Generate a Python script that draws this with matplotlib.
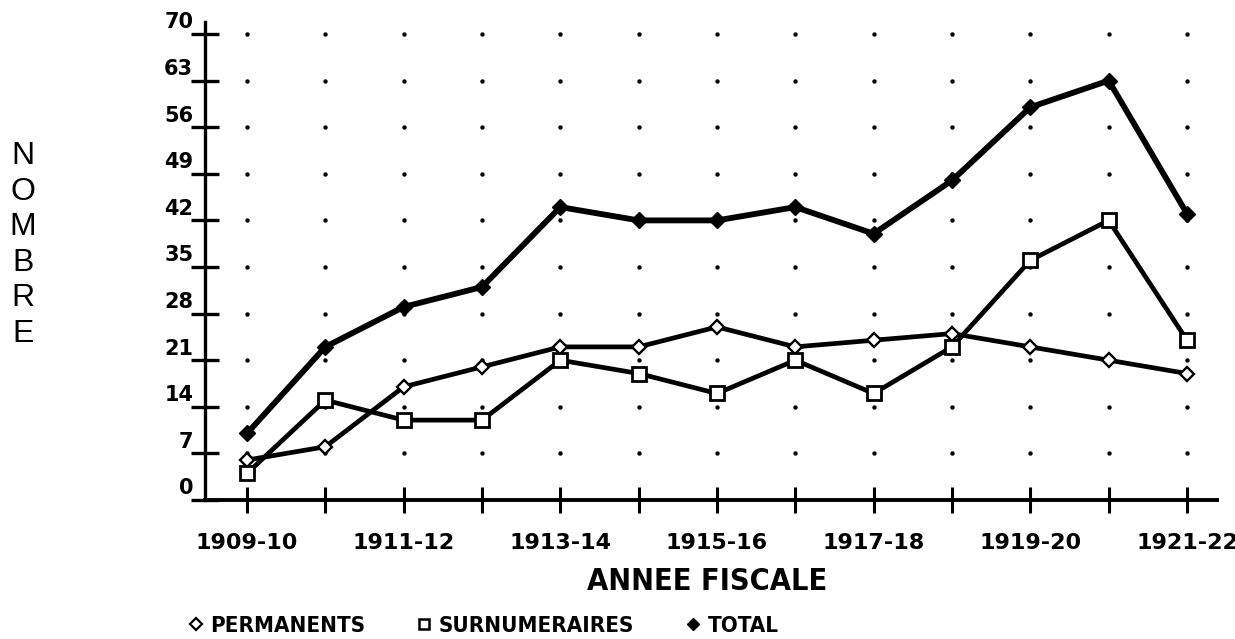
import numpy as np
import matplotlib
matplotlib.use("Agg")
import matplotlib.pyplot as plt
from matplotlib.lines import Line2D
from matplotlib.transforms import ScaledTranslation
from matplotlib import font_manager as fm

# ---- data ----
years = ["1909-10", "1910-11", "1911-12", "1912-13", "1913-14", "1914-15", "1915-16",
         "1916-17", "1917-18", "1918-19", "1919-20", "1920-21", "1921-22"]
permanents = [6, 8, 17, 20, 23, 23, 26, 23, 24, 25, 23, 21, 19]
surnumeraires = [4, 15, 12, 12, 21, 19, 16, 21, 16, 23, 36, 42, 24]
total = [10, 23, 29, 32, 44, 42, 42, 44, 40, 48, 59, 63, 43]
yticks = [0, 7, 14, 21, 28, 35, 42, 49, 56, 63, 70]
xlabels_shown = years[::2]
legend_labels = ["PERMANENTS", "SURNUMERAIRES", "TOTAL"]

# condensed bold face if available, else regular Liberation Sans
_cond = [f.fname for f in fm.fontManager.ttflist
         if "DejaVuSansCondensed-Bold.ttf" in f.fname]
if _cond:
    def cfont(size):
        return fm.FontProperties(fname=_cond[0], size=size)
    title_fp = cfont(22)
    legend_fp = cfont(16)
else:
    title_fp = fm.FontProperties(family="Liberation Sans", size=21)
    legend_fp = fm.FontProperties(family="Liberation Sans", size=16)

W, H = 1235, 639
fig = plt.figure(figsize=(W / 100, H / 100), dpi=100)
ax = fig.add_axes([205 / W, 1 - 500 / H, (1217 - 205) / W, (500 - 22) / H])

x = np.arange(len(years))
ax.set_xlim(-42 / 78.33, len(years) - 1 + 30 / 78.33)
ax.set_ylim(0, 70 + 12 / 6.657)

# dotted grid (dots at each category / y tick intersection)
gx, gy = np.meshgrid(x, yticks[1:])
ax.scatter(gx.ravel(), gy.ravel(), s=10, c="black", zorder=1, linewidths=0)

ax.plot(x, total, color="black", lw=4.2, marker="D", ms=8.5, mfc="black",
        mec="black", zorder=3, solid_joinstyle="round")
ax.plot(x, permanents, color="black", lw=3.4, marker="D", ms=7, mfc="white",
        mec="black", mew=1.7, zorder=4, solid_joinstyle="round")
ax.plot(x, surnumeraires, color="black", lw=3.4, marker="s", ms=10, mfc="white",
        mec="black", mew=2.0, zorder=4, solid_joinstyle="round")

for s in ["top", "right"]:
    ax.spines[s].set_visible(False)
ax.spines["left"].set_linewidth(2.4)
ax.spines["bottom"].set_linewidth(2.8)

ax.set_xticks(x)
ax.set_xticklabels([y if y in xlabels_shown else "" for y in years],
                   fontsize=16, fontweight="bold", family="DejaVu Sans")
ax.set_yticks(yticks)
ax.set_yticklabels([str(v) for v in yticks], fontsize=15, fontweight="bold",
                   family="DejaVu Sans")
ax.tick_params(axis="y", direction="inout", length=20, width=2.4, pad=-1.5)
ax.tick_params(axis="x", direction="inout", length=19, width=2.2, pad=14)
off = ScaledTranslation(0, 4 / 72, fig.dpi_scale_trans)
for lab in ax.get_yticklabels():
    lab.set_va("baseline")
    lab.set_transform(lab.get_transform() + off)

fig.text(707 / W, 1 - 582 / H, "ANNEE FISCALE", ha="center", va="center",
         fontproperties=title_fp)
fig.text(23 / W, 1 - 245 / H, "N\nO\nM\nB\nR\nE", ha="center", va="center",
         fontsize=23, linespacing=1.24, family="Liberation Sans")

handles = [
    Line2D([], [], ls="none", marker="D", ms=6, mfc="white", mec="black", mew=1.6,
           label=legend_labels[0]),
    Line2D([], [], ls="none", marker="s", ms=7, mfc="white", mec="black", mew=1.8,
           label=legend_labels[1]),
    Line2D([], [], ls="none", marker="D", ms=6.5, mfc="black", mec="black",
           label=legend_labels[2]),
]
fig.legend(handles=handles, loc="center left", bbox_to_anchor=(188 / W, 1 - 626 / H),
           ncol=3, frameon=False, handlelength=0.7, handletextpad=0.3,
           columnspacing=2.3, borderaxespad=0, borderpad=0, prop=legend_fp)

fig.savefig("out.png", dpi=100)
